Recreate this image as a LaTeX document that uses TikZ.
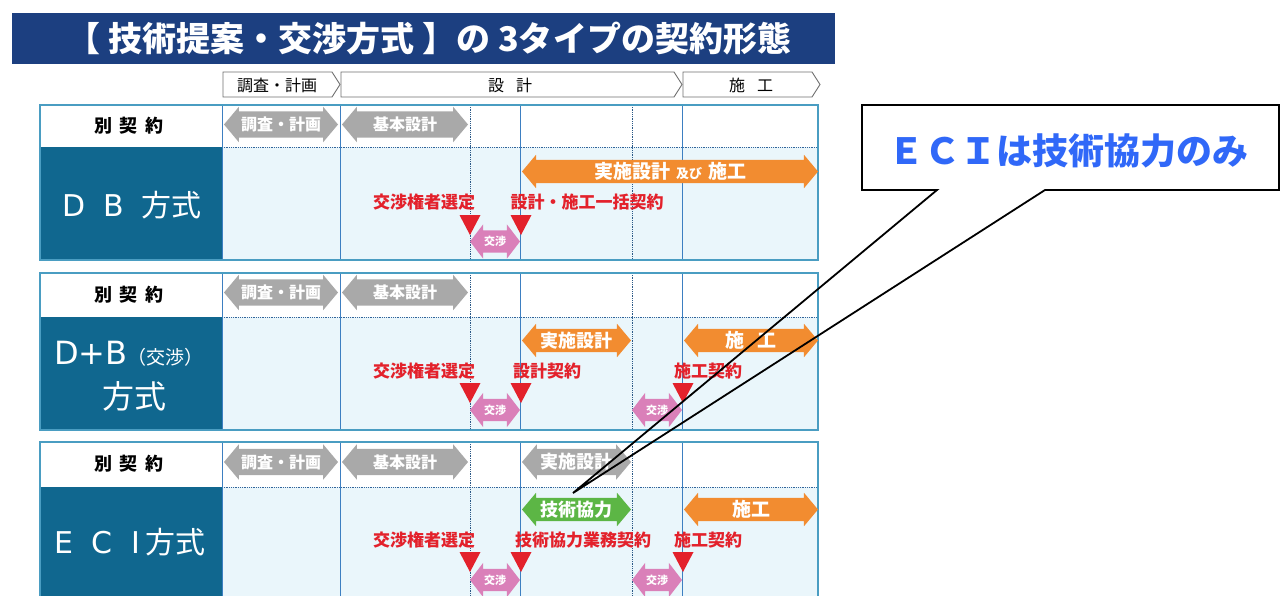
\documentclass[tikz,border=0pt]{standalone}
\usepackage{fontspec}
\setmainfont{Noto Sans CJK JP}
\newfontfamily\titlefont{Noto Sans CJK JP}
\newfontfamily\latw{DejaVu Sans}
\usetikzlibrary{shapes.arrows}
\newcommand{\myfs}[1]{\fontsize{#1}{#1}\selectfont}
\definecolor{navy}{HTML}{1C3F80}
\definecolor{tealc}{HTML}{10678F}
\definecolor{lblue}{HTML}{EAF6FB}
\definecolor{gridb}{HTML}{3D7FC1}
\definecolor{framec}{HTML}{4A9DC2}
\definecolor{garrow}{HTML}{A9A9A9}
\definecolor{orng}{HTML}{F28C30}
\definecolor{grn}{HTML}{5CB645}
\definecolor{pnk}{HTML}{DA80B9}
\definecolor{redt}{HTML}{E3212B}
\definecolor{calblue}{HTML}{3068F8}
\definecolor{hdrline}{HTML}{707070}
\tikzset{
  garr/.style={double arrow, double arrow tip angle=100, double arrow head extend=4.5pt,
    fill=garrow, draw=none, text=white, minimum height=#1, minimum width=0pt,
    text height=19.1pt, text depth=6.9pt, inner ysep=0pt, inner xsep=0pt,
    font=\bfseries\myfs{16}},
  barr/.style={double arrow, double arrow tip angle=100, double arrow head extend=5pt,
    draw=none, text=white, minimum height=#1, minimum width=0pt,
    text height=18.3pt, text depth=4.7pt, inner ysep=0pt, inner xsep=0pt,
    font=\bfseries\myfs{18}},
  parr/.style={double arrow, double arrow tip angle=105, double arrow head extend=6pt,
    fill=pnk, draw=none, text=white, minimum height=50pt, minimum width=0pt,
    text height=15.2pt, text depth=6.8pt, inner ysep=0pt, inner xsep=0pt,
    font=\bfseries\myfs{11}},
  redlbl/.style={text=redt, font=\bfseries\myfs{17}, inner sep=0pt},
  hdrbox/.style={draw=hdrline, line width=0.9pt, fill=white},
  hdrtxt/.style={font=\myfs{16}, inner sep=0pt},
  subtxt/.style={font=\bfseries\myfs{18}, inner sep=0pt},
  lbltxt/.style={text=white, inner sep=0pt, align=center},
  tri/.style={fill=redt}
}
\newcommand{\drawblock}[3]{%
  \fill[white] (40,#1) rectangle (818,#2);
  \fill[lblue] (222,#2) rectangle (818,#3);
  \fill[tealc] (40,#2) rectangle (222,#3);
  \draw[gridb!80!black, densely dotted, line width=0.8pt] (222,#2) -- (818,#2);
  \foreach \xx in {222,340,520,682} \draw[gridb, line width=0.8pt] (\xx,#1) -- (\xx,#3);
  \foreach \xx in {470,632} \draw[gridb!70!black, densely dotted, line width=0.8pt] (\xx,#1) -- (\xx,#3);
  \draw[framec, line width=1.6pt] (40,#1) rectangle (818,#3);
}
\newcommand{\redtri}[2]{\fill[tri] (#1-10.5,#2) -- (#1+10.5,#2) -- (#1,#2+20) -- cycle;}
\begin{document}
\begin{tikzpicture}[x=1pt,y=-1pt]
\useasboundingbox (0,0) rectangle (1280,595);
\clip (0,0) rectangle (1280,595);
\fill[white] (0,0) rectangle (1280,595);

% title
\fill[navy] (12,13) rectangle (835,64);
\node[text=white, font=\titlefont\bfseries\myfs{34}, inner sep=0pt] (title) at (429,39) {【 技術提案・交渉方式 】の 3タイプの契約形態};

% header
\draw[hdrbox] (223,72) -- (332,72) -- (340,84.5) -- (332,97) -- (223,97) -- cycle;
\draw[hdrbox] (341,72) -- (674,72) -- (682,84.5) -- (674,97) -- (341,97) -- cycle;
\draw[hdrbox] (683,72) -- (812,72) -- (820,84.5) -- (812,97) -- (683,97) -- cycle;
\node[hdrtxt] (h1) at (277,85) {調査・計画};
\node[hdrtxt] (h2) at (510,85) {設\hspace{12pt}計};
\node[hdrtxt] (h3) at (751,85) {施\hspace{12pt}工};

% ===== block 1 : DB
\drawblock{105}{147}{260}
\node[subtxt] (b1s) at (129,126) {別\hspace{8pt}契\hspace{8pt}約};
\node[lbltxt, font=\myfs{30}] (b1l) at (132,205) {{\latw D}\hspace{18pt}{\latw B}\hspace{17pt}方式};
\node[garr=114pt] (b1g1) at (281,124.5) {調査・計画};
\node[garr=126pt] (b1g2) at (405,124.5) {基本設計};
\node[barr=296pt, fill=orng] (b1o) at (670,171.5) {{\myfs{19}実施設計}\hspace{6pt}{\myfs{13}及び}\hspace{6pt}{\myfs{19}施工}};
\node[redlbl] (b1r1) at (424,202) {交渉権者選定};
\node[redlbl] (b1r2) at (587,202) {設計・施工一括契約};
\redtri{470}{215}
\redtri{521}{215}
\node[parr] (b1p) at (495,241.5) {交渉};

% ===== block 2 : D+B
\drawblock{273}{317}{430}
\node[subtxt] (b2s) at (129,295) {別\hspace{8pt}契\hspace{8pt}約};
\node[lbltxt] (b2l1) at (129,354) {{\latw\myfs{32}D+B}{\myfs{19}（交渉）}};
\node[lbltxt, font=\myfs{32}] (b2l2) at (134,396) {方式};
\node[garr=114pt] (b2g1) at (281,292.5) {調査・計画};
\node[garr=126pt] (b2g2) at (405,292.5) {基本設計};
\node[barr=109pt, fill=orng] (b2o1) at (576.5,340.5) {実施設計};
\node[barr=134pt, fill=orng] (b2o2) at (751,340.5) {{\myfs{19}施\hspace{14pt}工}};
\node[redlbl] (b2r1) at (424,371) {交渉権者選定};
\node[redlbl] (b2r2) at (547,371) {設計契約};
\node[redlbl] (b2r3) at (708,371) {施工契約};
\redtri{470}{383}
\redtri{521}{383}
\redtri{683}{383}
\node[parr] (b2p1) at (495,410) {交渉};
\node[parr] (b2p2) at (657,410) {交渉};

% ===== block 3 : ECI
\drawblock{442}{487}{610}
\node[subtxt] (b3s) at (129,464) {別\hspace{8pt}契\hspace{8pt}約};
\node[lbltxt, font=\myfs{30}] (b3l) at (130,542) {{\latw E}\hspace{18pt}{\latw C}\hspace{19pt}{\latw I}\hspace{5pt}方式};
\node[garr=114pt] (b3g1) at (281,462) {調査・計画};
\node[garr=126pt] (b3g2) at (405,462) {基本設計};
\node[garr=109pt] (b3g3) at (576.5,462) {{\myfs{18}実施設計}};
\node[barr=109pt, fill=grn] (b3gr) at (576.5,509.5) {技術協力};
\node[barr=134pt, fill=orng] (b3o) at (751,509.5) {{\myfs{19}施工}};
\node[redlbl] (b3r1) at (424,540) {交渉権者選定};
\node[redlbl] (b3r2) at (583,540) {技術協力業務契約};
\node[redlbl] (b3r3) at (708,540) {施工契約};
\redtri{470}{552}
\redtri{521}{552}
\redtri{683}{552}
\node[parr] (b3p1) at (495,580) {交渉};
\node[parr] (b3p2) at (657,580) {交渉};

% ===== callout
\coordinate (ctip) at (573,493);
\fill[white] (862,105) rectangle (1279,190);
\draw[black, line width=1.8pt, line join=miter] (937,190) -- (862,190) -- (862,105) -- (1279,105) -- (1279,190) -- (1045,190) -- (ctip) -- cycle;
\node[text=calblue, font=\bfseries\myfs{36}, inner sep=0pt] (call) at (1068,151) {ＥＣＩは技術協力のみ};
\end{tikzpicture}
\end{document}
